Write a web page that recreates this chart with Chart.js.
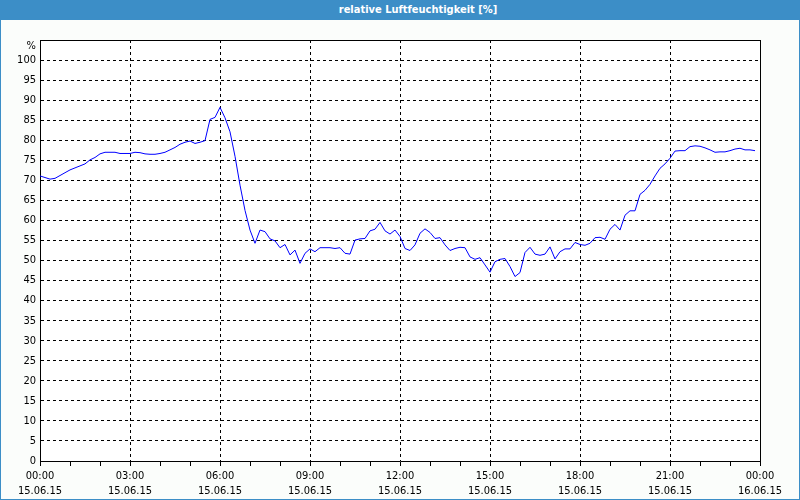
<!DOCTYPE html>
<html><head><meta charset="utf-8">
<script src="https://cdn.jsdelivr.net/npm/chart.js@4"></script>
<style>
html,body{margin:0;padding:0;background:#fbfdfb;}
#frame{position:relative;width:800px;height:500px;box-sizing:border-box;border:1px solid #3c8ec7;border-top:none;background:#fbfdfb;overflow:hidden}
#title{position:absolute;left:-1px;top:0;width:800px;height:20px;box-sizing:border-box;padding-left:36px;background:#3c8ec7;color:#fff;font:bold 11px 'DejaVu Sans Condensed','DejaVu Sans',sans-serif;line-height:20px;text-align:center;}
#wrap{position:absolute;left:0;top:20px;width:798px;height:479px}
</style></head>
<body>
<div id="frame">
<div id="title">relative Luftfeuchtigkeit [%]</div>
<div id="wrap"><canvas id="c" width="798" height="479"></canvas></div>
</div>
<script>
// relative humidity [%], sampled every 10 minutes from 15.06.15 00:00
const humidity = [
71.1,70.7,70.3,70.5,71.2,71.9,72.6,73.1,73.6,74.1,75.1,75.7,76.6,77.0,77.0,77.0,76.7,76.7,76.7,77.0,
76.9,76.6,76.5,76.5,76.7,77.0,77.6,78.2,79.0,79.5,79.8,79.2,79.5,79.9,85.2,85.7,88.2,85.6,82.1,76.0,
68.8,62.5,57.6,54.3,57.6,57.2,55.4,54.9,53.2,54.0,51.4,52.6,49.3,51.8,52.9,52.2,53.2,53.2,53.2,53.0,
53.2,51.8,51.6,55.1,55.4,55.5,57.4,57.8,59.5,57.4,56.6,57.6,56.0,53.0,52.5,53.9,56.8,57.9,57.0,55.5,
55.7,53.9,52.5,53.0,53.3,53.2,50.9,50.3,50.7,48.9,47.1,49.7,50.3,50.5,48.5,46.0,47.0,52.0,53.3,51.6,
51.3,51.6,53.4,50.4,52.2,52.9,52.9,54.5,54.0,53.8,54.3,55.7,55.8,55.3,57.8,59.0,57.6,61.3,62.4,62.4,
66.5,67.5,69.0,71.1,73.0,74.1,75.5,77.3,77.4,77.4,78.4,78.6,78.5,78.1,77.6,77.0,77.1,77.1,77.4,77.8,
78.0,77.6,77.6,77.4
];
const sampleMinutes = 10;
const times = humidity.map((_, i) => i * sampleMinutes / 60); // hours since start

const xTickTimes = ['00:00','03:00','06:00','09:00','12:00','15:00','18:00','21:00','00:00'];
const xTickDates = ['15.06.15','15.06.15','15.06.15','15.06.15','15.06.15','15.06.15','15.06.15','15.06.15','16.06.15'];
const yUnit = '%';

const FONT = "'DejaVu Sans Condensed','DejaVu Sans',sans-serif";

const framePlugin = {
  id: 'frame',
  beforeDraw(c) {
    const {ctx, chartArea: a} = c;
    ctx.save();
    ctx.fillStyle = '#ffffff';
    ctx.fillRect(a.left, a.top, a.right - a.left, a.bottom - a.top);
    ctx.restore();
  },
  afterDraw(c) {
    const {ctx, chartArea: a} = c;
    const ys = c.scales.y;
    ctx.save();
    ctx.strokeStyle = '#000';
    ctx.lineWidth = 1;
    ctx.beginPath();
    ctx.moveTo(Math.round(a.left) + 0.5, Math.round(a.top) + 0.5);
    ctx.lineTo(Math.round(a.right) + 0.5, Math.round(a.top) + 0.5);
    ctx.lineTo(Math.round(a.right) + 0.5, Math.round(a.bottom) + 0.5);
    ctx.stroke();
    ctx.fillStyle = '#000';
    ctx.font = '11px ' + FONT;
    ctx.textAlign = 'right';
    ctx.textBaseline = 'middle';
    ctx.fillText(yUnit, ys.right - 4, a.top + 6);
    ctx.restore();
  }
};

new Chart(document.getElementById('c'), {
  type: 'line',
  data: {
    datasets: [{
      data: times.map((t, i) => ({x: t, y: humidity[i]})),
      borderColor: '#0000ff',
      borderWidth: 1,
      pointRadius: 0,
      tension: 0,
      fill: false
    }]
  },
  options: {
    animation: false,
    responsive: false,
    maintainAspectRatio: false,
    devicePixelRatio: 1,
    layout: {padding: {left: 0, right: 39, top: 20, bottom: 0}},
    plugins: {legend: {display: false}, tooltip: {enabled: false}, title: {display: false}},
    scales: {
      x: {
        type: 'linear', min: 0, max: 24,
        afterFit: s => { s.height = 38; },
        ticks: {
          stepSize: 1, autoSkip: false, maxRotation: 0, minRotation: 0,
          color: '#000', padding: 3,
          font: {family: FONT, size: 11, lineHeight: '15px'},
          callback: v => (v % 3 === 0 ? [xTickTimes[v / 3], xTickDates[v / 3]] : '')
        },
        grid: {
          color: c => (c.tick && c.tick.value % 3 === 0 ? '#000' : 'rgba(0,0,0,0)'),
          tickColor: '#000', tickLength: 5, lineWidth: 1, drawTicks: true
        },
        border: {color: '#000', width: 1, dash: [3, 3]}
      },
      y: {
        type: 'linear', min: 0, max: 105,
        afterFit: s => { s.width = 39; },
        ticks: {
          stepSize: 5, autoSkip: false, color: '#000', padding: 4,
          font: {family: FONT, size: 11},
          callback: v => (v === 105 ? '' : String(v))
        },
        grid: {color: '#000', lineWidth: 1, drawTicks: false},
        border: {color: '#000', width: 1, dash: [3, 3]}
      }
    }
  },
  plugins: [framePlugin]
});
</script>
</body></html>
